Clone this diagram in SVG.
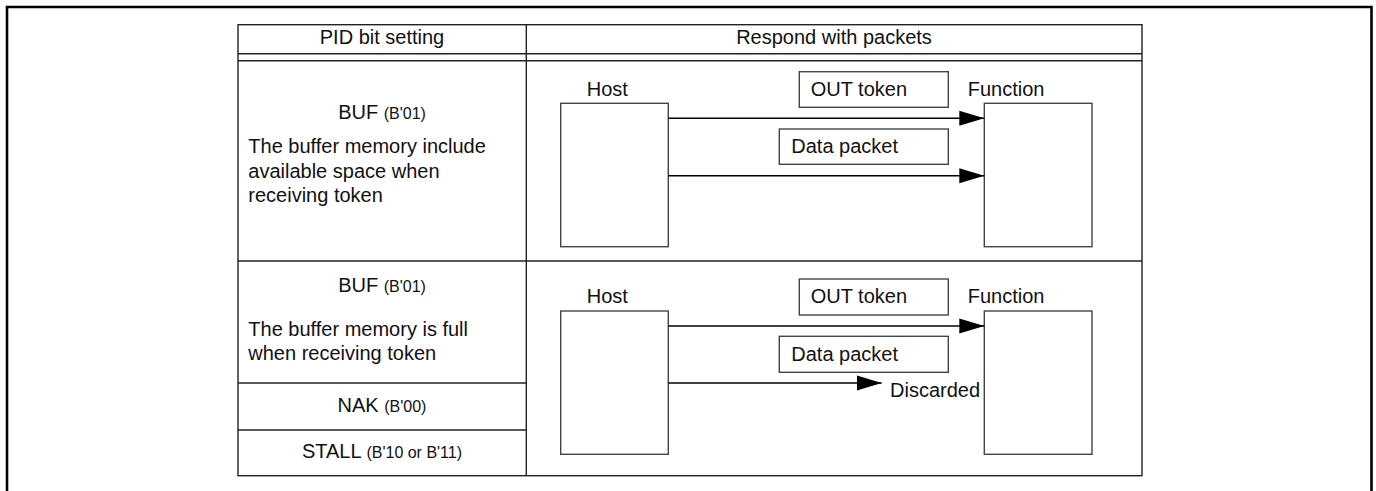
<svg xmlns="http://www.w3.org/2000/svg" width="1376" height="491" viewBox="0 0 1376 491">
<style>
text{font-family:"Liberation Sans",Arial,sans-serif;font-size:20px;fill:#111}
.c{text-anchor:middle}
.s{font-size:16px}
.tl{stroke:#222;stroke-width:1.4;fill:none}
.box{stroke:#444;stroke-width:1.4;fill:#fff}
.arr{stroke:#000;stroke-width:1.6;fill:none}
</style>
<defs>
<marker id="ah" markerUnits="userSpaceOnUse" markerWidth="26" markerHeight="16" refX="25" refY="8" orient="auto">
<path d="M0,0.5 L25,8 L0,15.5 Z" fill="#000"/>
</marker>
</defs>
<rect width="1376" height="491" fill="#fff"/>
<path d="M7,500 V7 H1371.5 V500" fill="none" stroke="#000" stroke-width="2.6"/>
<g id="table">
<rect class="tl" x="238" y="24.7" width="904" height="451"/>
<line class="tl" x1="526.3" y1="24.7" x2="526.3" y2="475.7"/>
<line class="tl" x1="238" y1="53.7" x2="1142" y2="53.7"/>
<line class="tl" x1="238" y1="60.7" x2="1142" y2="60.7"/>
<line class="tl" x1="238" y1="261" x2="1142" y2="261"/>
<line class="tl" x1="238" y1="383" x2="526.3" y2="383"/>
<line class="tl" x1="238" y1="430" x2="526.3" y2="430"/>
<text class="c" x="382" y="44.3">PID bit setting</text>
<text class="c" x="834" y="44.3">Respond with packets</text>
</g>
<g id="row1-setting">
<text class="c" x="382" y="119.3">BUF <tspan class="s">(B'01)</tspan></text>
<text x="248.3" y="153.3">The buffer memory include</text>
<text x="248.3" y="177.8">available space when</text>
<text x="248.3" y="202">receiving token</text>
</g>
<g id="row2-setting">
<text class="c" x="382" y="291.7">BUF <tspan class="s">(B'01)</tspan></text>
<text x="248.3" y="336">The buffer memory is full</text>
<text x="248.3" y="359.5">when receiving token</text>
<text class="c" x="382" y="411.7">NAK <tspan class="s">(B'00)</tspan></text>
<text class="c" x="382" y="458.3">STALL <tspan class="s">(B'10 or B'11)</tspan></text>
</g>
<g id="host1">
<text x="586.7" y="95.7">Host</text>
<rect class="box" x="560.7" y="103.3" width="107.6" height="143.4"/>
</g>
<g id="function1">
<text x="967.7" y="95.7">Function</text>
<rect class="box" x="984.3" y="103.3" width="107.7" height="143.4"/>
</g>
<g id="outtoken1">
<rect class="box" x="799.3" y="71.7" width="149" height="35.6"/>
<text x="810.7" y="95.7">OUT token</text>
</g>
<g id="datapacket1">
<rect class="box" x="779.3" y="129" width="169" height="35.3"/>
<text x="791.3" y="152.7">Data packet</text>
</g>
<g id="host2">
<text x="586.7" y="303.3">Host</text>
<rect class="box" x="560.7" y="311" width="107.6" height="143.3"/>
</g>
<g id="function2">
<text x="967.7" y="303.3">Function</text>
<rect class="box" x="984.3" y="311" width="107.7" height="143.3"/>
</g>
<g id="outtoken2">
<rect class="box" x="799.3" y="279" width="149" height="36"/>
<text x="810.7" y="303.3">OUT token</text>
</g>
<g id="datapacket2">
<rect class="box" x="779.3" y="336.3" width="169" height="36"/>
<text x="791.3" y="361">Data packet</text>
</g>
<g id="discarded">
<text x="890" y="397">Discarded</text>
</g>
<g id="connectors">
<line class="arr" x1="668.3" y1="118.3" x2="984.3" y2="118.3" marker-end="url(#ah)"/>
<line class="arr" x1="668.3" y1="175.7" x2="984.3" y2="175.7" marker-end="url(#ah)"/>
<line class="arr" x1="668.3" y1="326" x2="984.3" y2="326" marker-end="url(#ah)"/>
<line class="arr" x1="668.3" y1="383" x2="881.7" y2="383" marker-end="url(#ah)"/>
</g>
</svg>
